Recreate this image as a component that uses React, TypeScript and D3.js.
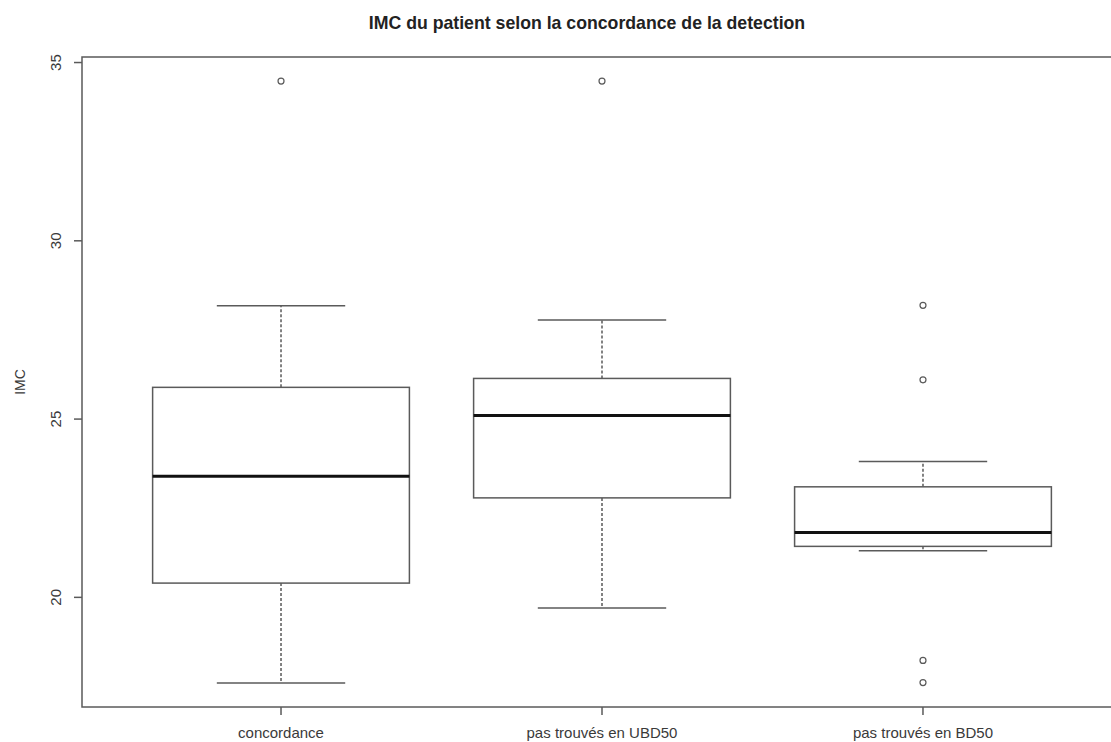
import React from "react";
import * as d3 from "d3";

const categories = ["concordance", "pas trouvés en UBD50", "pas trouvés en BD50"];
const whiskerLow = [17.6, 19.7, 21.31];
const q1 = [20.4, 22.79, 21.43];
const medians = [23.4, 25.1, 21.82];
const q3 = [25.89, 26.14, 23.1];
const whiskerHigh = [28.18, 27.78, 23.81];
const outliers: number[][] = [[34.48], [34.48], [28.19, 26.1, 18.23, 17.61]];
const yTicks = [20, 25, 30, 35];
const title = "IMC du patient selon la concordance de la detection";
const yLabel = "IMC";

const W = 1111;
const H = 742;
const plotLeft = 82;
const plotRight = 1122;
const plotTop = 57;
const plotBottom = 707;
const lineCol = "#5a5a5a";
const textCol = "#3a3a3a";
const font = "'Liberation Sans', Arial, sans-serif";

export default function App() {
  const allVals = [...whiskerLow, ...whiskerHigh, ...outliers.flat()];
  const lo = d3.min(allVals) as number;
  const hi = d3.max(allVals) as number;
  const pad = (hi - lo) * 0.04;
  const y = d3.scaleLinear().domain([lo - pad, hi + pad]).range([plotBottom, plotTop]);
  const n = categories.length;
  const xpad = n * 0.04;
  const x = d3.scaleLinear().domain([0.5 - xpad, n + 0.5 + xpad]).range([plotLeft, plotRight]);
  const half = x(1.4) - x(1);
  const capHalf = x(1.2) - x(1);

  return (
    <svg width={W} height={H} style={{ position: "absolute", left: 0, top: 0, background: "#fff" }}>
      <text x={587} y={29} textAnchor="middle" fontFamily={font} fontWeight="bold" fontSize={17.7} fill="#222">
        {title}
      </text>
      <rect x={plotLeft} y={plotTop} width={plotRight - plotLeft} height={plotBottom - plotTop}
        fill="none" stroke={lineCol} strokeWidth={1.5} />
      {yTicks.map((t) => (
        <g key={t}>
          <line x1={plotLeft - 8} x2={plotLeft} y1={y(t)} y2={y(t)} stroke={lineCol} strokeWidth={1.5} />
          <text transform={`translate(61,${y(t)}) rotate(-90)`} textAnchor="middle" fontFamily={font}
            fontSize={15} fill={textCol}>{t}</text>
        </g>
      ))}
      <text transform={`translate(25,${(plotTop + plotBottom) / 2}) rotate(-90)`} textAnchor="middle"
        fontFamily={font} fontSize={14} fill={textCol}>{yLabel}</text>
      {categories.map((c, i) => {
        const cx = x(i + 1);
        return (
          <g key={c}>
            <line x1={cx} x2={cx} y1={plotBottom} y2={plotBottom + 8} stroke={lineCol} strokeWidth={1.5} />
            <text x={cx} y={738} textAnchor="middle" fontFamily={font} fontSize={15} fill={textCol}>{c}</text>
            <line x1={cx} x2={cx} y1={y(q3[i])} y2={y(whiskerHigh[i])} stroke={lineCol} strokeWidth={1.5}
              strokeDasharray="3,2" />
            <line x1={cx} x2={cx} y1={y(q1[i])} y2={y(whiskerLow[i])} stroke={lineCol} strokeWidth={1.5}
              strokeDasharray="3,2" />
            <line x1={cx - capHalf} x2={cx + capHalf} y1={y(whiskerHigh[i])} y2={y(whiskerHigh[i])}
              stroke={lineCol} strokeWidth={1.5} />
            <line x1={cx - capHalf} x2={cx + capHalf} y1={y(whiskerLow[i])} y2={y(whiskerLow[i])}
              stroke={lineCol} strokeWidth={1.5} />
            <rect x={cx - half} width={2 * half} y={y(q3[i])} height={y(q1[i]) - y(q3[i])}
              fill="#fff" stroke={lineCol} strokeWidth={1.5} />
            <line x1={cx - half} x2={cx + half} y1={y(medians[i])} y2={y(medians[i])}
              stroke="#111" strokeWidth={3} />
            {outliers[i].map((o, k) => (
              <circle key={k} cx={cx} cy={y(o)} r={3} fill="none" stroke={lineCol} strokeWidth={1.2} />
            ))}
          </g>
        );
      })}
    </svg>
  );
}
